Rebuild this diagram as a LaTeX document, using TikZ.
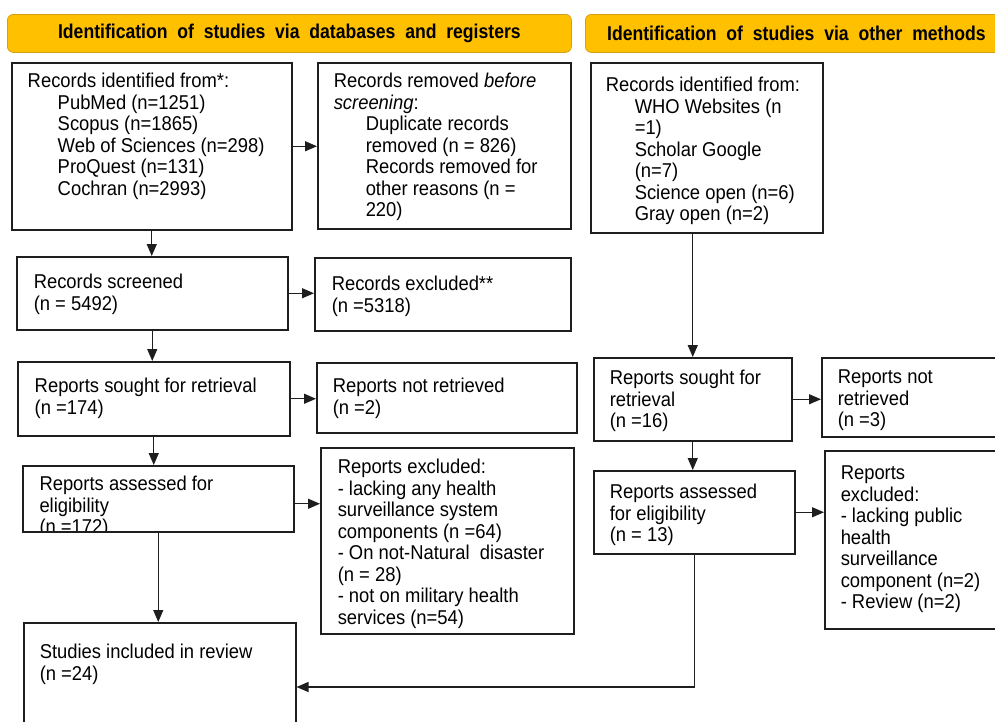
\documentclass[tikz,border=0pt]{standalone}
\usepackage{fontspec}
\setmainfont{Liberation Sans}[FakeStretch=0.92]
\newfontfamily\hdrfont{Liberation Sans}[FakeStretch=0.88,WordSpace=2.0]
\usetikzlibrary{arrows.meta,calc}
\definecolor{hdrgold}{HTML}{FFC000}
\definecolor{hdredge}{HTML}{D4A017}
\definecolor{ink}{HTML}{1E1E1E}
% width, height, left pad, top pad, content
\newcommand\bt[5]{\begin{minipage}[t][#2pt][t]{#1pt}\leftskip=#3pt\rightskip=0pt plus 1fil\parindent=0pt\parfillskip=0pt plus 1fil\vspace*{#4pt}\rule{0pt}{15pt}#5\end{minipage}}
\newcommand\ind[1]{\hspace*{#1pt}}
\tikzset{
  boxshape/.style={draw=ink, line width=1.5pt, inner sep=0pt, anchor=north west,
    font=\fontsize{20}{21.5}\selectfont},
  hdr/.style={draw=hdredge, fill=hdrgold, line width=0.8pt, rounded corners=6pt,
    inner sep=0pt, anchor=north west, font=\hdrfont\bfseries\fontsize{20}{22}\selectfont},
  conn/.style={draw=ink, line width=1.3pt, -{Triangle[length=12pt,width=10pt]}},
}
\begin{document}
\begin{tikzpicture}[x=1pt,y=-1pt]
\useasboundingbox (0,0) rectangle (995,721);
\clip (0,0) rectangle (995,721);

% headers
\node[hdr, minimum width=564pt, minimum height=38pt] (H1) at (7,14)
  {Identification of studies via databases and registers};
\node[hdr, minimum width=422pt, minimum height=38pt] (H2) at (585,14)
  {Identification of studies via other methods};

% left column
\node[boxshape] (A) at (11,62) {\bt{280}{167}{16}{10}{Records identified from*:\\
  \ind{30}PubMed (n=1251)\\ \ind{30}Scopus (n=1865)\\ \ind{30}Web of Sciences (n=298)\\
  \ind{30}ProQuest (n=131)\\ \ind{30}Cochran (n=2993)}};
\node[boxshape] (B) at (317,62) {\bt{253}{166}{16}{10}{Records removed \textit{before}\\
  \textit{screening}:\\ \ind{32}Duplicate records\\ \ind{32}removed (n = 826)\\
  \ind{32}Records removed for\\ \ind{32}other reasons (n =\\ \ind{32}220)}};
\node[boxshape] (C) at (16,256) {\bt{271}{73}{17}{17}{Records screened\\ (n = 5492)}};
\node[boxshape] (D) at (314,257) {\bt{256}{73}{17}{18}{Records excluded**\\ (n =5318)}};
\node[boxshape] (E) at (17,361) {\bt{272}{74}{17}{16}{Reports sought for retrieval\\ (n =174)}};
\node[boxshape] (F) at (316,362) {\bt{260}{70}{16}{15}{Reports not retrieved\\ (n =2)}};
\node[boxshape, minimum width=271pt, minimum height=66pt,
  path picture={\node[draw=none, inner sep=0pt, anchor=north west,
    font=\fontsize{20}{21.5}\selectfont] (Gtext) at (path picture bounding box.north west)
    {\bt{271}{66}{16}{9}{Reports assessed for\\ eligibility\\ (n =172)}};}] (G) at (22,465) {};
\node[boxshape] (H) at (320,447) {\bt{253}{186}{17}{11}{Reports excluded:\\
  - lacking any health\\ surveillance system\\ components (n =64)\\
  - On not-Natural\ \ disaster\\ (n = 28)\\ - not on military health\\ services (n=54)}};
\node[boxshape] (I) at (23,622) {\bt{272}{120}{16}{21}{Studies included in review\\ (n =24)}};

% right column
\node[boxshape] (J) at (590,62) {\bt{232}{170}{15}{14}{Records identified from:\\
  \ind{29}WHO Websites (n\\ \ind{29}=1)\\ \ind{29}Scholar Google\\ \ind{29}(n=7)\\
  \ind{29}Science open (n=6)\\ \ind{29}Gray open (n=2)}};
\node[boxshape] (K) at (593,357) {\bt{198}{83}{16}{12}{Reports sought for\\ retrieval\\ (n =16)}};
\node[boxshape] (L) at (821,357) {\bt{190}{79}{16}{11}{Reports not\\ retrieved\\ (n =3)}};
\node[boxshape] (M) at (593,470) {\bt{201}{83}{16}{13}{Reports assessed\\ for eligibility\\ (n = 13)}};
\node[boxshape] (N) at (824,450) {\bt{190}{178}{16}{14}{Reports\\ excluded:\\
  - lacking public\\ health\\ surveillance\\ component (n=2)\\ - Review (n=2)}};

% connectors
\draw[conn] (A.east) -- (A.east -| B.west);
\draw[conn] (A.south) -- (A.south |- C.north);
\draw[conn] (C.east) -- (C.east -| D.west);
\draw[conn] (C.south) -- (C.south |- E.north);
\draw[conn] (E.east) -- (E.east -| F.west);
\draw[conn] (E.south) -- (E.south |- G.north);
\coordinate (g1) at ([yshift=-5pt]G.east);
\draw[conn] (g1) -- (g1 -| H.west);
\draw[conn] (G.south) -- (G.south |- I.north);
\draw[conn] (K.north |- J.south) -- (K.north);
\draw[conn] (K.east) -- (K.east -| L.west);
\draw[conn] (K.south) -- (K.south |- M.north);
\draw[conn] (M.east) -- (M.east -| N.west);
\coordinate (lvl) at (0,687);
\coordinate (bend) at (M.south |- lvl);
\draw[conn] (M.south) -- (bend) -- (bend -| I.east);
\end{tikzpicture}
\end{document}
